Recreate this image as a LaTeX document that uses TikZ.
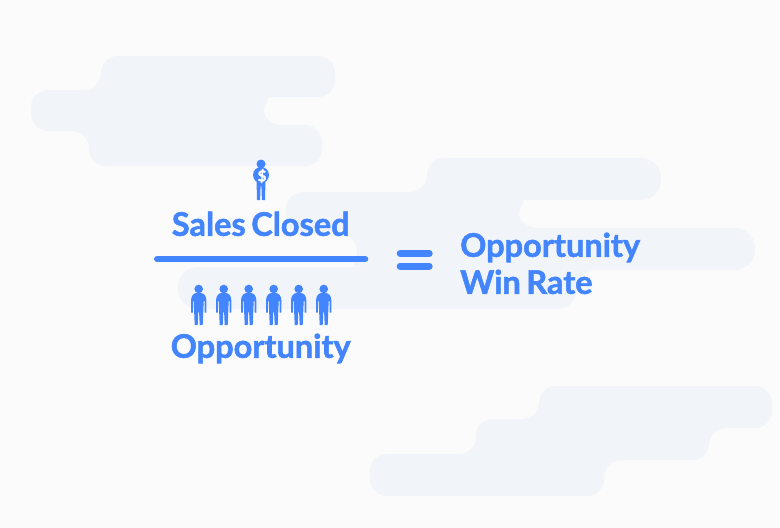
\documentclass[tikz,border=0pt]{standalone}
\usepackage{fontspec}
\setmainfont{Lato}[WordSpace=0.7, BoldFeatures={FakeBold=1.6}]
\definecolor{pagebg}{HTML}{FBFBFC}
\definecolor{cloudbg}{HTML}{F1F4F9}
\definecolor{winblue}{HTML}{4285FF}
\tikzset{
  cloud/.style={fill=cloudbg, rounded corners=17pt},
  lbl/.style={text=winblue, font=\bfseries\fontsize{32.5}{37}\selectfont, inner sep=0pt, anchor=base},
  bar/.style={winblue, line cap=round}
}
% one standing figure, feet on the origin
\newcommand{\personshape}{
  \fill[winblue] (0,-36) circle (4.3);
  \fill[winblue] (-7.6,-12.5) -- (-5.9,-12.5) -- (-5.9,-24) -- (-5,-24) -- (-4,0) -- (-1,0) -- (-.4,-13) -- (.4,-13) -- (1,0) -- (4,0) -- (5,-24) -- (5.9,-24) -- (5.9,-12.5) -- (7.6,-12.5) -- (7.6,-25) .. controls (7.6,-29) and (5,-32) .. (2,-32) -- (-2,-32) .. controls (-5,-32) and (-7.6,-29) .. (-7.6,-25) -- cycle;
}
\begin{document}
\begin{tikzpicture}[x=1pt, y=-1pt]
  \useasboundingbox (0,0) rectangle (780,528);
  \fill[pagebg] (0,0) rectangle (780,528);
  \fill[cloud] (101,56) -- (335,56) -- (335,97) -- (283,97) [sharp corners] .. controls (272,97) and (264,103) .. (264,111) .. controls (264,119) and (272,125) .. (283,125) [rounded corners=17pt] -- (322,125) -- (322,166) -- (89,166) -- (89,131) -- (31,131) -- (31,90) -- (101,90) -- cycle;
  \fill[cloud, rounded corners=20pt] (427,158) -- (661,158) -- (661,200) -- (540,200) [sharp corners] .. controls (528,200) and (519,206) .. (519,214) .. controls (519,222) and (528,228) .. (540,228) [rounded corners=20pt] -- (755,228) -- (755,270) -- (577,270) -- (577,309) -- (178,309) -- (178,267) -- (340,267) [sharp corners] .. controls (350,267) and (357,260) .. (357,251) .. controls (357,242) and (350,235) .. (340,235) [rounded corners=17pt] -- (286,235) -- (286,192) -- (427,192) -- cycle;
  \fill[cloud] (539,386) -- (772,386) -- (772,428) -- (709,428) -- (709,460) -- (604,460) -- (604,496) -- (370,496) -- (370,454) -- (476,454) -- (476,419) -- (539,419) -- cycle;
  \node[lbl] (sales) at (260.7,235.8) {Sales Closed};
  \node[lbl] (opp) at (260.7,357.8) {Opportunity};
  \node[lbl, anchor=base west] (rate1) at (460,256.8) {Opportunity};
  \node[lbl, anchor=base west] (rate2) at (460,293.8) {Win Rate};
  \draw[bar, line width=6.4pt] (157.2,259) -- (365.1,259);
  \draw[bar, line width=7pt] (400.2,253.7) -- (429.2,253.7);
  \draw[bar, line width=7pt] (400.2,266) -- (429.2,266);
  % the one who closed holds a coin
  \begin{scope}[shift={(261,200)}]
    \fill[winblue] (0,-36) circle (4.5);
    \fill[winblue] (0,-25) circle (8);
    \fill[winblue] (-4.5,-20) -- (-4,0) -- (-.9,0) -- (-.4,-14) -- (.4,-14) -- (.9,0) -- (4,0) -- (4.5,-20) -- cycle;
    \node[text=white, font=\bfseries\fontsize{15}{15}\selectfont, inner sep=0pt] (coin) at (1,-24) {\$};
  \end{scope}
  \foreach \i in {0,...,5}{
    \begin{scope}[shift={(198.7+25*\i,325)}]
      \personshape
    \end{scope}
  }
\end{tikzpicture}
\end{document}
